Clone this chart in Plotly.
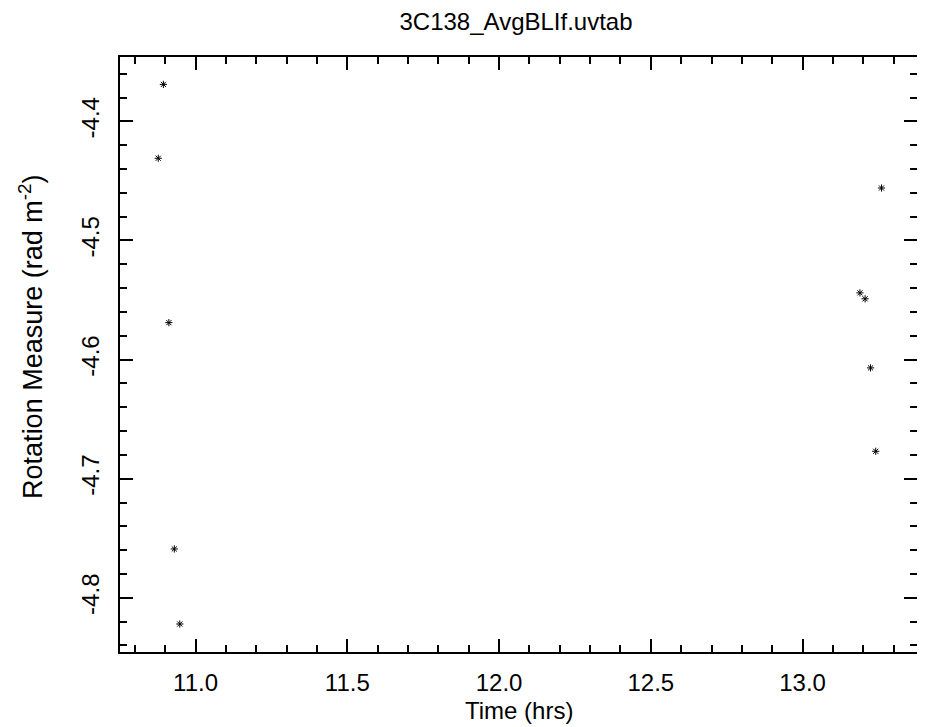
import plotly.graph_objects as go

time_hrs = [10.894, 10.877, 10.912, 10.930, 10.948, 13.260, 13.189, 13.206, 13.224, 13.241]
rot_measure = [-4.369, -4.431, -4.569, -4.759, -4.822, -4.456, -4.544, -4.549, -4.607, -4.677]

x_tickvals = [11.0, 11.5, 12.0, 12.5, 13.0]
x_ticktext = ["11.0", "11.5", "12.0", "12.5", "13.0"]
y_tickvals = [-4.8, -4.7, -4.6, -4.5, -4.4]
y_ticktext = ["-4.8", "-4.7", "-4.6", "-4.5", "-4.4"]

title_text = "3C138_AvgBLIf.uvtab"
x_title = "Time (hrs)"
y_title = "Rotation Measure (rad m<sup>-2</sup>)"

FONT = "Liberation Sans, Arial, sans-serif"
FS = 24

fig = go.Figure()
fig.add_trace(go.Scatter(
    x=time_hrs, y=rot_measure, mode="markers",
    marker=dict(symbol="asterisk", size=6, color="black",
                line=dict(color="black", width=1)),
    showlegend=False,
))

# page body has an 8px margin, so the figure is sized to the remaining window
fig.update_layout(
    width=917, height=719,
    margin=dict(l=112, r=6, t=49, b=75),
    paper_bgcolor="white", plot_bgcolor="white",
    font=dict(family=FONT, size=FS, color="black"),
    title=dict(text=title_text, x=0.554, xanchor="center", y=0.9805, yanchor="middle",
               font=dict(family=FONT, size=FS, color="black")),
    annotations=[
        dict(text=x_title, xref="paper", yref="paper", x=0.5006, y=-0.099,
             xanchor="center", yanchor="middle", showarrow=False,
             font=dict(family=FONT, size=FS, color="black")),
        dict(text=y_title, xref="paper", yref="paper", x=-0.1126, y=0.53,
             xanchor="center", yanchor="middle", showarrow=False, textangle=-90,
             font=dict(family=FONT, size=27, color="black")),
    ],
)
fig.update_xaxes(
    range=[10.751, 13.377], showgrid=False, zeroline=False,
    showline=True, linecolor="black", linewidth=1.5, mirror="allticks",
    ticks="inside", ticklen=13, tickwidth=1.5, tickcolor="black",
    tickmode="array", tickvals=x_tickvals, ticktext=x_ticktext,
    minor=dict(ticks="inside", ticklen=7, tickwidth=1.5, tickcolor="black",
               tickmode="linear", dtick=0.1, tick0=11.0, showgrid=False),
    ticklabelstandoff=8,
    tickfont=dict(size=FS),
)
fig.update_yaxes(
    range=[-4.8455, -4.346], showgrid=False, zeroline=False,
    showline=True, linecolor="black", linewidth=1.5, mirror="allticks",
    ticks="inside", ticklen=13, tickwidth=1.5, tickcolor="black",
    tickmode="array", tickvals=y_tickvals, ticktext=y_ticktext, tickangle=-90,
    minor=dict(ticks="inside", ticklen=7, tickwidth=1.5, tickcolor="black",
               tickmode="linear", dtick=0.02, tick0=-4.8, showgrid=False),
    ticklabelstandoff=10,
    tickfont=dict(size=FS),
)

fig.write_html("out.html")
